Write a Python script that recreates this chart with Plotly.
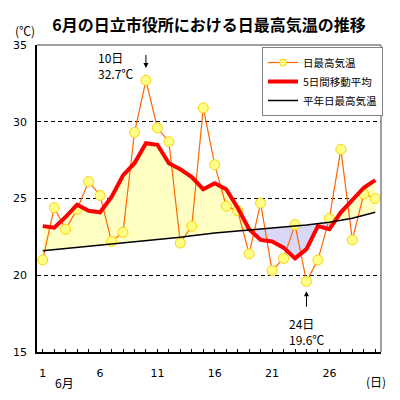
import numpy as np
import plotly.graph_objects as go

days = list(range(1, 31))
daily_max = [21.0, 24.4, 23.0, 24.3, 26.1, 25.2, 22.2, 22.8, 29.3, 32.7,
             29.6, 28.7, 22.1, 23.2, 30.9, 27.2, 24.5, 24.2, 21.4, 24.7,
             20.3, 21.1, 23.3, 19.6, 21.0, 23.7, 28.2, 22.3, 25.3, 25.0]
moving_avg = [23.2, 23.1, 23.8, 24.6, 24.2, 24.1, 25.1, 26.5, 27.3, 28.6,
              28.5, 27.3, 26.9, 26.4, 25.6, 26.0, 25.6, 24.4, 23.0, 22.3,
              22.2, 21.8, 21.1, 21.7, 23.2, 23.0, 24.1, 24.9, 25.7, 26.2]
normal = [21.60, 21.67, 21.74, 21.81, 21.88, 21.95, 22.02, 22.09, 22.16, 22.23,
          22.30, 22.39, 22.48, 22.58, 22.68, 22.75, 22.81, 22.87, 22.93, 23.00,
          23.07, 23.14, 23.21, 23.28, 23.36, 23.46, 23.58, 23.72, 23.91, 24.10]
xtick_vals = [1, 6, 11, 16, 21, 26]
ytick_vals = [15, 20, 25, 30, 35]

# refine with crossing points for two-colour fill
xs, ms, ns = [], [], []
for i in range(len(days)):
    if i > 0:
        d0 = moving_avg[i-1] - normal[i-1]
        d1 = moving_avg[i] - normal[i]
        if d0 * d1 < 0:
            t = d0 / (d0 - d1)
            xc = days[i-1] + t * (days[i] - days[i-1])
            nc = normal[i-1] + t * (normal[i] - normal[i-1])
            xs.append(xc); ms.append(nc); ns.append(nc)
    xs.append(days[i]); ms.append(moving_avg[i]); ns.append(normal[i])
xs = np.array(xs); ms = np.array(ms); ns = np.array(ns)
upper = np.maximum(ms, ns)
lower = np.minimum(ms, ns)

# page body has an 8px margin; figure is sized/offset to compensate
OFF = 8
W = H = 400 - OFF
L, T, R, B = 37 - OFF, 45 - OFF, 19, 48
PW, PH = W - L - R, H - T - B

def px(x):
    return (x - OFF - L) / PW

def py(y):
    return (H - B - (y - OFF)) / PH

font_jp = "Noto Sans CJK JP"
fig = go.Figure()
fig.add_trace(go.Scatter(x=xs, y=ns, mode="lines", line=dict(width=0), showlegend=False, hoverinfo="skip"))
fig.add_trace(go.Scatter(x=xs, y=upper, mode="lines", line=dict(width=0), fill="tonexty",
                         fillcolor="#FFFFC4", showlegend=False, hoverinfo="skip"))
fig.add_trace(go.Scatter(x=xs, y=ns, mode="lines", line=dict(width=0), showlegend=False, hoverinfo="skip"))
fig.add_trace(go.Scatter(x=xs, y=lower, mode="lines", line=dict(width=0), fill="tonexty",
                         fillcolor="#D9D9F7", showlegend=False, hoverinfo="skip"))

# legend-only entry with a smaller marker
fig.add_trace(go.Scatter(x=[None], y=[None], mode="lines+markers", name="日最高気温",
                         line=dict(color="#FF6600", width=1.2),
                         marker=dict(size=7, color="#FFFF88", line=dict(color="#FFD000", width=1))))
fig.add_trace(go.Scatter(x=days, y=daily_max, mode="lines+markers", name="日最高気温",
                         showlegend=False,
                         line=dict(color="#FF6600", width=1.2),
                         marker=dict(size=10, color="#FFFF88", line=dict(color="#FFD000", width=1))))
fig.add_trace(go.Scatter(x=days, y=moving_avg, mode="lines", name="5日間移動平均",
                         line=dict(color="#FF0000", width=4)))
fig.add_trace(go.Scatter(x=days, y=normal, mode="lines", name="平年日最高気温",
                         line=dict(color="#000000", width=1.5)))

fig.update_xaxes(range=[0.5, 30.5], tickvals=xtick_vals, ticks="inside", ticklen=3,
                 tickcolor="black", showline=True, linecolor="black", linewidth=1.5,
                 showgrid=False, zeroline=False, ticklabelstandoff=10, automargin=False,
                 minor=dict(dtick=1, tick0=0, ticks="inside", ticklen=3, tickcolor="black"),
                 tickfont=dict(size=11, color="black", family="DejaVu Sans"))
fig.update_yaxes(range=[15, 35], tickvals=ytick_vals, ticks="", showline=True,
                 linecolor="black", linewidth=1.5, showgrid=True, gridcolor="black",
                 griddash="4px,3px", gridwidth=1, zeroline=False, ticklabelstandoff=6,
                 automargin=False,
                 tickfont=dict(size=11, color="black", family="DejaVu Sans"))

fig.add_shape(type="line", xref="x domain", yref="y domain", x0=0, x1=1, y0=1, y1=1,
              line=dict(color="#808080", width=1.5))
fig.add_shape(type="line", xref="x domain", yref="y domain", x0=1, x1=1, y0=0, y1=1,
              line=dict(color="#808080", width=1.5))

annos = [
    dict(x=10, y=33.5, ax=10, ay=35, axref="x", ayref="y", text=" ", showarrow=True,
         arrowhead=2, arrowsize=1, arrowwidth=1, arrowcolor="black"),
    dict(x=24, y=18.95, ax=24, ay=17.3, axref="x", ayref="y", text=" ", showarrow=True,
         arrowhead=2, arrowsize=1, arrowwidth=1, arrowcolor="black"),
    dict(xref="paper", yref="paper", x=px(96), y=py(65), text="10日<br>32.7℃",
         xanchor="left", yanchor="middle", align="left", showarrow=False),
    dict(xref="paper", yref="paper", x=px(287), y=py(331), text="24日<br>19.6℃",
         xanchor="left", yanchor="middle", align="left", showarrow=False),
    dict(xref="paper", yref="paper", x=px(64), y=py(382), text="6月",
         xanchor="center", yanchor="middle", showarrow=False),
    dict(xref="paper", yref="paper", x=px(376), y=py(381), text="(日)",
         xanchor="center", yanchor="middle", showarrow=False),
    dict(xref="paper", yref="paper", x=px(25), y=py(31), text="(℃)",
         xanchor="center", yanchor="middle", showarrow=False),
]
for a in annos:
    a.setdefault("font", dict(size=12, color="black", family=font_jp))
    fig.add_annotation(**a)

fig.update_layout(
    width=W, height=H,
    margin=dict(l=L, r=R, t=T, b=B, autoexpand=False),
    paper_bgcolor="white", plot_bgcolor="white",
    title=dict(text="<b>6月の日立市役所における日最高気温の推移</b>", x=(209 - OFF) / W,
               xref="container", xanchor="center", y=1 - (25 - OFF) / H, yanchor="middle",
               font=dict(size=16, color="black", family=font_jp)),
    legend=dict(x=px(262), y=py(47), xanchor="left", yanchor="top",
                bgcolor="white", bordercolor="#808080", borderwidth=1,
                font=dict(size=10.5, color="black", family=font_jp),
                itemwidth=30, tracegroupgap=0, traceorder="normal"),
    showlegend=True,
)

fig.write_html("out.html")
